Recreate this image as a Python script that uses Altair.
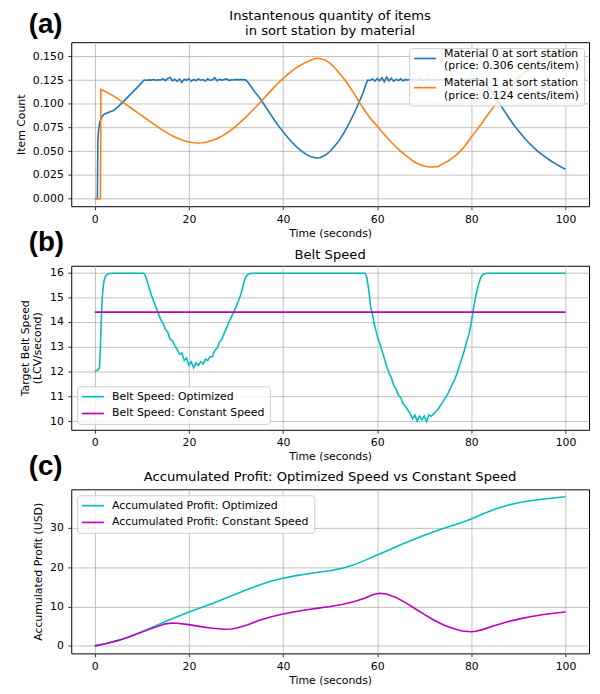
import altair as alt
import pandas as pd

# ---------------- Panel (a): items in sort station ----------------
M0 = "Material 0 at sort station|(price: 0.306 cents/item)"
M1 = "Material 1 at sort station|(price: 0.124 cents/item)"

m0_t = [0, 0.55, 0.65, 0.8, 1.0, 1.3, 1.6, 2, 3, 4, 5, 6, 7, 8, 9, 10,
        10.5, 11, 11.5, 12, 12.5, 13, 13.5, 14, 14.5, 15, 15.5, 16, 16.5, 17, 17.5, 18, 18.5, 19, 19.5, 20,
        20.5, 21, 21.5, 22, 22.5, 23, 23.5, 24, 24.5, 25, 25.5, 26, 26.5, 27, 27.5, 28, 28.5, 29, 29.5, 30,
        30.5, 31, 31.5, 32, 32.5, 33, 34, 35, 36, 37, 38, 39, 40, 41, 42, 43, 44, 45, 46, 47, 48, 49, 50,
        51, 52, 53, 54, 55, 56, 57, 57.7,
        58, 58.5, 59, 59.5, 60, 60.5, 61, 61.5, 62, 62.5, 63, 63.5, 64, 64.5, 65, 65.5, 66, 66.5, 67, 67.5,
        68, 68.5, 69, 69.5, 70, 70.5, 71, 71.5, 72, 72.5, 73, 73.5, 74, 74.5, 75, 75.5, 76, 76.5, 77, 77.5,
        78, 78.5, 79, 79.5, 80, 80.5, 81, 81.5, 82,
        82.5, 83, 84, 85, 86, 87, 88, 89, 90, 91, 92, 93, 94, 95, 96, 97, 98, 99, 100]
m0_v = [0, 0, 0.060, 0.072, 0.079, 0.084, 0.087, 0.089, 0.091, 0.093, 0.097, 0.102, 0.107, 0.112, 0.117, 0.1225,
        0.1250, 0.1248, 0.1252, 0.1249, 0.1255, 0.1247, 0.1253, 0.1251, 0.1262, 0.1244, 0.1268, 0.1278, 0.1241,
        0.1259, 0.1236, 0.1262, 0.1225, 0.1258, 0.1247, 0.1265,
        0.1238, 0.1257, 0.1243, 0.1261, 0.1248, 0.1255, 0.1239, 0.1263, 0.1246, 0.1252, 0.1274, 0.1241, 0.1259,
        0.1248, 0.1256, 0.1262, 0.1245, 0.1253, 0.1250, 0.1257,
        0.1252, 0.1255, 0.1254, 0.1252, 0.1230, 0.1195, 0.1125, 0.1065, 0.0990, 0.0915, 0.0840, 0.0770, 0.0705,
        0.0645, 0.0590, 0.0540, 0.0500, 0.0465, 0.0442, 0.0430, 0.0435, 0.0460, 0.0500,
        0.0555, 0.0620, 0.0700, 0.0790, 0.0890, 0.1000, 0.1115, 0.1220,
        0.1250, 0.1245, 0.1262, 0.1238, 0.1266, 0.1243, 0.1275, 0.1232, 0.1281, 0.1240, 0.1268, 0.1236, 0.1259,
        0.1244, 0.1263, 0.1240, 0.1257, 0.1249, 0.1262, 0.1243,
        0.1255, 0.1247, 0.1268, 0.1241, 0.1256, 0.1250, 0.1262, 0.1245, 0.1253, 0.1258, 0.1247, 0.1256, 0.1251,
        0.1263, 0.1246, 0.1255, 0.1250, 0.1258, 0.1248, 0.1254,
        0.1266, 0.1250, 0.1257, 0.1262, 0.1254, 0.1260, 0.1258, 0.1255, 0.1250,
        0.1225, 0.1205, 0.1145, 0.1075, 0.1000, 0.0925, 0.0850, 0.0780, 0.0715, 0.0655, 0.0600, 0.0550, 0.0505,
        0.0465, 0.0430, 0.0395, 0.0365, 0.0337, 0.0310]

m1_t = [0, 1.2, 1.3, 2, 3, 4, 5, 6, 7, 8, 9, 10, 11, 12, 13, 14, 15, 16, 17, 18, 19, 20, 21, 22, 23, 24, 25,
        26, 27, 28, 29, 30, 31, 32, 33, 34, 35, 36, 37, 38, 39, 40, 41, 42, 43, 44, 45, 46, 47, 48, 49, 50,
        51, 52, 53, 54, 55, 56, 57, 58, 59, 60, 61, 62, 63, 64, 65, 66, 67, 68, 69, 70, 71, 72, 73, 74, 75,
        76, 77, 78, 79, 80, 81, 82, 83, 84, 85, 86, 87, 88, 89, 90, 91, 92, 93, 94, 95, 96, 97, 98, 99, 100]
m1_v = [0, 0, 0.1150, 0.1135, 0.1110, 0.1080, 0.1050, 0.1015, 0.0980, 0.0945, 0.0910, 0.0875, 0.0840, 0.0805,
        0.0770, 0.0735, 0.0705, 0.0675, 0.0650, 0.0630, 0.0610, 0.0598, 0.0590, 0.0588, 0.0590, 0.0600, 0.0615,
        0.0635, 0.0660, 0.0690, 0.0725, 0.0765, 0.0810, 0.0855, 0.0905, 0.0955, 0.1005, 0.1060, 0.1115, 0.1170,
        0.1220, 0.1265, 0.1310, 0.1350, 0.1385, 0.1415, 0.1440, 0.1460, 0.1480, 0.1475, 0.1460, 0.1425,
        0.1380, 0.1320, 0.1260, 0.1190, 0.1115, 0.1035, 0.0955, 0.0885, 0.0820, 0.0765, 0.0705, 0.0650, 0.0595,
        0.0545, 0.0500, 0.0460, 0.0420, 0.0385, 0.0360, 0.0345, 0.0335, 0.0335, 0.0340, 0.0370, 0.0395,
        0.0430, 0.0470, 0.0520, 0.0580, 0.0650, 0.0715, 0.0780, 0.0850, 0.0920, 0.0985, 0.1050, 0.1110, 0.1170,
        0.1220, 0.1270, 0.1315, 0.1355, 0.1390, 0.1420, 0.1450, 0.1475, 0.1500, 0.1520, 0.1545, 0.1565]

# ---------------- Panel (b): belt speed ----------------
B_OPT = "Belt Speed: Optimized"
B_CON = "Belt Speed: Constant Speed"
bo_t = [0, 0.5, 0.8, 1.0, 1.2, 1.4, 1.6, 1.8, 2.0, 2.3, 2.7, 3.2, 4, 10.4,
        10.8, 11.2, 11.6, 12.0, 12.5, 13.0, 13.5, 14.0, 14.5, 15.0, 15.5, 16.0, 16.5, 17.0, 17.5, 18.0, 18.5,
        19.0, 19.5, 20.0, 20.5, 21.0, 21.5, 22.0, 22.5, 23.0, 23.5, 24.0, 24.5, 25.0, 25.5, 26.0, 26.5, 27.0,
        27.5, 28.0, 28.5, 29.0, 29.5, 30.0, 30.5, 31.0, 31.5, 32.0, 32.5, 33.0, 34, 57.4,
        57.8, 58.2, 58.6, 59.0, 59.4, 59.8, 60.2, 60.6, 61.0, 61.5, 62.0, 62.5, 63.0, 63.5, 64.0, 64.5, 65.0,
        65.5, 66.0, 66.5, 67.0, 67.5, 68.0, 68.5, 69.0, 69.5, 70.0, 70.5, 71.0, 71.5, 72.0, 72.5, 73.0, 73.5,
        74.0, 74.5, 75.0, 75.5, 76.0, 76.5, 77.0, 77.5, 78.0, 78.5, 79.0, 79.5, 80.0, 80.5, 81.0, 81.5, 82.0,
        82.5, 83.0, 84, 100]
bo_v = [12.0, 12.05, 12.1, 12.15, 13.0, 14.2, 15.0, 15.45, 15.7, 15.85, 15.93, 15.96, 15.97, 15.97,
        15.85, 15.6, 15.35, 15.1, 14.85, 14.6, 14.35, 14.1, 13.95, 13.7, 13.6, 13.3, 13.25, 13.05, 12.9, 12.7,
        12.75, 12.45, 12.55, 12.25, 12.4, 12.15, 12.35, 12.25, 12.4, 12.3, 12.5, 12.45, 12.6, 12.6, 12.85,
        12.95, 13.2, 13.3, 13.55, 13.75, 14.0, 14.2, 14.4, 14.6, 14.85, 15.1, 15.45, 15.8, 15.92, 15.96, 15.97,
        15.97,
        15.8, 15.3, 14.6, 14.3, 13.9, 13.6, 13.3, 13.1, 12.85, 12.55, 12.2, 11.95, 11.75, 11.45, 11.3, 11.05,
        10.95, 10.7, 10.6, 10.45, 10.3, 10.1, 10.25, 10.0, 10.2, 10.05, 10.2, 9.98, 10.25, 10.2, 10.3, 10.4,
        10.5, 10.65, 10.8, 10.95, 11.1, 11.3, 11.5, 11.7, 11.95, 12.25, 12.55, 12.85, 13.2, 13.5, 14.0, 14.6,
        15.1, 15.5, 15.8, 15.92, 15.96, 15.97, 15.97]
bc_t = [0, 100]
bc_v = [14.4, 14.4]

# ---------------- Panel (c): accumulated profit ----------------
P_OPT = "Accumulated Profit: Optimized"
P_CON = "Accumulated Profit: Constant Speed"
po_t = [0, 2.5, 5, 7.5, 10, 12.5, 15, 17.5, 20, 22.5, 25, 27.5, 30, 32.5, 35, 37.5, 40, 42.5, 45, 47.5, 50,
        52.5, 55, 57.5, 60, 62.5, 65, 67.5, 70, 72.5, 75, 77.5, 80, 82.5, 85, 87.5, 90, 92.5, 95, 97.5, 100]
po_v = [0, 0.6, 1.4, 2.4, 3.6, 4.9, 6.2, 7.4, 8.6, 9.7, 10.8, 12.0, 13.2, 14.4, 15.5, 16.5, 17.2, 17.8, 18.3,
        18.7, 19.1, 19.7, 20.6, 21.8, 23.1, 24.4, 25.7, 26.9, 28.1, 29.2, 30.2, 31.2, 32.25, 33.6, 34.75, 35.7,
        36.4, 36.9, 37.3, 37.6, 37.9]
pc_t = [0, 2.5, 5, 7.5, 10, 12.5, 15, 16.5, 18, 20, 22.5, 25, 27.5, 29, 30, 32.5, 35, 37.5, 40, 42.5, 45,
        47.5, 50, 52.5, 55, 57.5, 59, 60.5, 62, 64, 66, 68, 70, 72, 74, 76, 78, 80, 81, 82.5, 85, 87.5, 90,
        92.5, 95, 97.5, 100]
pc_v = [0, 0.6, 1.4, 2.4, 3.5, 4.6, 5.6, 5.8, 5.7, 5.4, 4.9, 4.5, 4.25, 4.3, 4.5, 5.4, 6.5, 7.4, 8.1, 8.7,
        9.2, 9.6, 10.0, 10.5, 11.2, 12.2, 13.0, 13.4, 13.2, 12.3, 11.0, 9.5, 8.0, 6.6, 5.4, 4.5, 3.8, 3.6,
        3.7, 4.2, 5.2, 6.1, 6.8, 7.4, 7.9, 8.3, 8.6]

x_ticks = [0, 20, 40, 60, 80, 100]
a_yticks = [0.0, 0.025, 0.05, 0.075, 0.1, 0.125, 0.15]
b_yticks = [10, 11, 12, 13, 14, 15, 16]
c_yticks = [0, 10, 20, 30]

BLUE, ORANGE, CYAN, MAGENTA = "#1f77b4", "#ff7f0e", "#00bfbf", "#bf00bf"
W, H = 524, 166
FONT = "DejaVu Sans"
# legend handle: a horizontal line drawn as a custom symbol path
HANDLE = "M-3,0H3"


def frame(series):
    rows = []
    for name, ts, vs in series:
        rows += [{"t": t, "v": v, "s": name} for t, v in zip(ts, vs)]
    return pd.DataFrame(rows)


one = pd.DataFrame({"k": [0]})


def panel(df, names, colors, ydom, yticks, yfmt, ytitle, ytitle_x, legend, title, title_y, label, label_y):
    x = alt.X("t:Q", scale=alt.Scale(domain=[-5, 105], nice=False, zero=False),
              axis=alt.Axis(values=x_ticks, format="d", title="Time (seconds)", labelFlush=False,
                            titleY=27.5, titleBaseline="middle", labelPadding=3.5))
    y = alt.Y("v:Q", scale=alt.Scale(domain=ydom, nice=False, zero=False),
              axis=alt.Axis(values=yticks, format=yfmt, title=ytitle, titleX=ytitle_x,
                            titleBaseline="middle", titleLineHeight=12, labelPadding=4.5))
    lines = alt.Chart(df).mark_line(strokeWidth=1.6).encode(
        x=x, y=y,
        color=alt.Color("s:N", scale=alt.Scale(domain=names, range=colors), legend=legend),
    )
    ttl = alt.Chart(one).mark_text(font=FONT, fontSize=13.3, align="center", baseline="middle",
                                   lineHeight=15, color="black").encode(
        x=alt.value(W / 2), y=alt.value(title_y), text=alt.value(title))
    lab = alt.Chart(one).mark_text(font="Liberation Sans", fontWeight="bold", fontSize=28, align="left",
                                   baseline="middle", color="black").encode(
        x=alt.value(-43), y=alt.value(label_y), text=alt.value(label))
    return alt.layer(lines, ttl, lab).properties(width=W, height=H)


pa = panel(frame([(M0, m0_t, m0_v), (M1, m1_t, m1_v)]), [M0, M1], [BLUE, ORANGE],
           [-0.00785, 0.16485], a_yticks, ".3f", "Item Count", -50.8,
           alt.Legend(title=None, orient="top-right", offset=5.5, rowPadding=4.5, labelBaseline="bottom",
                      labelExpr="split(datum.label, '|')"),
           ["Instantenous quantity of items", "in sort station by material"], -26.7, "(a)", -17.7)

pb = panel(frame([(B_OPT, bo_t, bo_v), (B_CON, bc_t, bc_v)]), [B_OPT, B_CON], [CYAN, MAGENTA],
           [9.65, 16.27], b_yticks, "d", ["Target Belt Speed", "(LCV/second)"], -46.3,
           alt.Legend(title=None, orient="bottom-left", offset=6, rowPadding=5),
           "Belt Speed", -10.6, "(b)", -23.3)

pc = panel(frame([(P_OPT, po_t, po_v), (P_CON, pc_t, pc_v)]), [P_OPT, P_CON], [CYAN, MAGENTA],
           [-1.9, 39.8], c_yticks, "d", "Accumulated Profit (USD)", -32.8,
           alt.Legend(title=None, orient="top-left", offset=5.5, rowPadding=5),
           "Accumulated Profit: Optimized Speed vs Constant Speed", -12.3, "(c)", -22.3)

chart = alt.vconcat(pa, pb, pc, spacing=60.25, bounds="flush").properties(
    padding={"left": 6, "top": -4.5, "right": 2, "bottom": 2}
).resolve_scale(color="independent").configure_view(
    stroke="black", strokeWidth=1
).configure_axis(
    domain=False, grid=True, gridColor="#b0b0b0", gridWidth=0.8,
    tickColor="black", tickSize=3.5, tickWidth=0.8,
    labelFont=FONT, labelFontSize=11, labelColor="black",
    titleFont=FONT, titleFontSize=11, titleFontWeight="normal", titleColor="black",
).configure_legend(
    labelFont=FONT, labelFontSize=11, labelColor="black", labelLimit=400,
    symbolType=HANDLE, symbolSize=54, symbolStrokeWidth=1.7, symbolOffset=5.5, labelOffset=13.8,
    padding=5, fillColor="rgba(255,255,255,0.8)", strokeColor="#cccccc", cornerRadius=3,
)

chart.save("out.html", embed_options={"renderer": "svg", "actions": False})
